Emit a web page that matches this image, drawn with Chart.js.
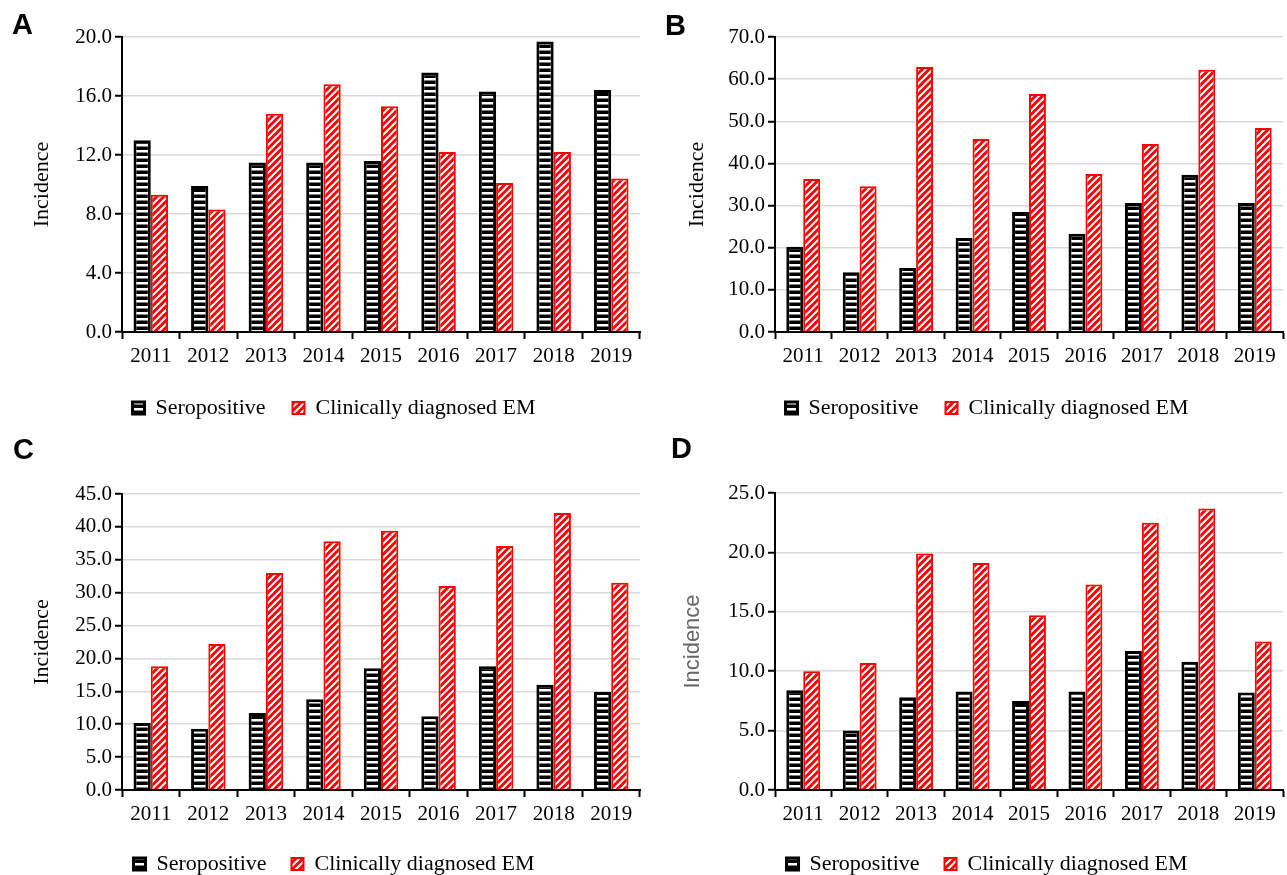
<!DOCTYPE html>
<html>
<head>
<meta charset="utf-8">
<title>Incidence 2011-2019</title>
<script src="https://cdn.jsdelivr.net/npm/chart.js@4.4.1/dist/chart.umd.min.js"></script>
<style>
    body { margin: 0; background: #fff; width: 1287px; height: 875px; position: relative; overflow: hidden; }
    canvas { position: absolute; }
    .tag { position: absolute; font: bold 29px 'Liberation Sans', Arial, sans-serif; line-height: 1; color: #000; }
</style>
</head>
<body>
<canvas id="chartA" width="645" height="431" style="left:0;top:0"></canvas>
<canvas id="chartB" width="635" height="431" style="left:652px;top:0"></canvas>
<canvas id="chartC" width="645" height="450" style="left:0;top:437px"></canvas>
<canvas id="chartD" width="635" height="450" style="left:652px;top:437px"></canvas>
<div class="tag" style="left:12px;top:10px">A</div>
<div class="tag" style="left:665px;top:11px">B</div>
<div class="tag" style="left:13px;top:435px">C</div>
<div class="tag" style="left:671px;top:434px">D</div>
<script>
const years = ['2011', '2012', '2013', '2014', '2015', '2016', '2017', '2018', '2019'];
const seriesNames = ['Seropositive', 'Clinically diagnosed EM'];

// A
const seroA = [13.0, 9.9, 11.5, 11.5, 11.6, 17.6, 16.3, 19.7, 16.4];
const clinA = [9.3, 8.3, 14.8, 16.8, 15.3, 12.2, 10.1, 12.2, 10.4];
// B
const seroB = [20.2, 14.2, 15.2, 22.3, 28.5, 23.3, 30.6, 37.3, 30.6];
const clinB = [36.3, 34.6, 62.9, 45.8, 56.5, 37.5, 44.6, 62.2, 48.4];
// C
const seroC = [10.2, 9.3, 11.7, 13.8, 18.5, 11.2, 18.8, 16.0, 14.9];
const clinC = [18.8, 22.2, 33.0, 37.8, 39.4, 31.0, 37.1, 42.1, 31.5];
// D
const seroD = [8.4, 5.0, 7.8, 8.3, 7.5, 8.3, 11.7, 10.8, 8.2];
const clinD = [10.0, 10.7, 19.9, 19.1, 14.7, 17.3, 22.5, 23.7, 12.5];

// y axis range and step per panel
const yMaxA = 20, yStepA = 4;
const yMaxB = 70, yStepB = 10;
const yMaxC = 45, yStepC = 5;
const yMaxD = 25, yStepD = 5;

Chart.defaults.font.family = "'Liberation Serif', 'Times New Roman', serif";
Chart.defaults.color = '#000';

// black bar with white horizontal dashes
function seroPattern() {
    const c = document.createElement('canvas');
    c.width = 6; c.height = 6;
    const g = c.getContext('2d');
    g.fillStyle = '#000';
    g.fillRect(0, 0, 6, 6);
    g.fillStyle = '#fff';
    g.fillRect(0, 0, 6, 2.5);
    return g.createPattern(c, 'repeat');
}

// red bar with white diagonal hatch
function clinPattern() {
    const c = document.createElement('canvas');
    c.width = 7; c.height = 7;
    const g = c.getContext('2d');
    g.fillStyle = '#ff0000';
    g.fillRect(0, 0, 7, 7);
    g.strokeStyle = '#fff';
    g.lineWidth = 2;
    g.beginPath();
    g.moveTo(0, 7); g.lineTo(7, 0);
    g.moveTo(-1, 1); g.lineTo(1, -1);
    g.moveTo(6, 8); g.lineTo(8, 6);
    g.stroke();
    return g.createPattern(c, 'repeat');
}

const seroFill = seroPattern();
const clinFill = clinPattern();

function makeChart(id, sero, clin, yMax, yStep, p) {
    return new Chart(document.getElementById(id), {
        type: 'bar',
        data: {
            labels: years,
            datasets: [{
                label: seriesNames[0],
                data: sero,
                backgroundColor: seroFill,
                borderColor: '#000',
                borderWidth: 3
            }, {
                label: seriesNames[1],
                data: clin,
                backgroundColor: clinFill,
                borderColor: '#ff0000',
                borderWidth: 2
            }]
        },
        options: {
            responsive: false,
            animation: false,
            layout: { padding: { left: p.padL, right: p.padR, top: p.padT, bottom: 2 } },
            datasets: { bar: { categoryPercentage: 0.6, barPercentage: 1 } },
            plugins: {
                legend: {
                    position: 'bottom',
                    labels: { boxWidth: 12, boxHeight: 12, padding: p.legendPad, color: '#000', font: { size: 22 } }
                },
                tooltip: { enabled: false }
            },
            scales: {
                x: {
                    grid: { drawOnChartArea: false, offset: true, tickLength: 7, tickColor: '#000', tickWidth: 2 },
                    border: { color: '#000', width: 2 },
                    ticks: { color: '#000', font: { size: 21 }, padding: 5 },
                    afterFit: s => { s.height = 38; }
                },
                y: {
                    min: 0,
                    max: yMax,
                    ticks: { stepSize: yStep, color: '#000', font: { size: 21 }, padding: 3, callback: v => v.toFixed(1) },
                    grid: { color: '#d9d9d9', lineWidth: 1.5, tickLength: 7, tickColor: '#000', tickWidth: 2 },
                    border: { color: '#000', width: 2 },
                    title: { display: true, text: 'Incidence', color: p.titleColor, font: p.titleFont, padding: { top: p.titlePad } },
                    afterFit: s => { s.width = p.axisW; }
                }
            }
        }
    });
}

const serifTitle = { family: "'Liberation Serif', 'Times New Roman', serif", size: 22 };
const sansTitle = { family: "'Liberation Sans', Arial, sans-serif", size: 22 };

makeChart('chartA', seroA, clinA, yMaxA, yStepA,
    { padL: 28, padR: 5, padT: 37, axisW: 94, legendPad: 27, titlePad: 1, titleColor: '#000', titleFont: serifTitle });
makeChart('chartB', seroB, clinB, yMaxB, yStepB,
    { padL: 39, padR: 4, padT: 37, axisW: 84, legendPad: 27, titlePad: -7, titleColor: '#000', titleFont: serifTitle });
makeChart('chartC', seroC, clinC, yMaxC, yStepC,
    { padL: 28, padR: 5, padT: 57, axisW: 94, legendPad: 25, titlePad: 1, titleColor: '#000', titleFont: serifTitle });
makeChart('chartD', seroD, clinD, yMaxD, yStepD,
    { padL: 39, padR: 4, padT: 56, axisW: 84, legendPad: 25, titlePad: -11, titleColor: '#666', titleFont: sansTitle });
</script>
</body>
</html>
